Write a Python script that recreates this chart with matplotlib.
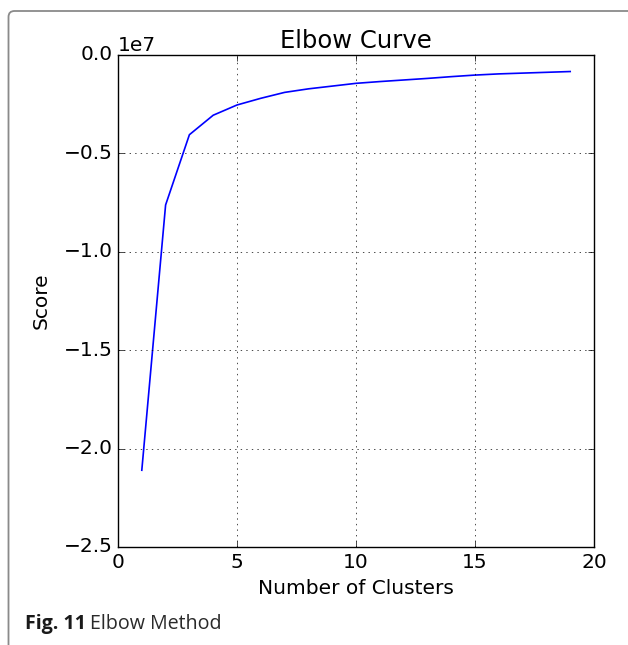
"""Elbow curve for k-means: score vs number of clusters."""

import matplotlib
matplotlib.use("Agg")
import matplotlib.pyplot as plt
from matplotlib.patches import FancyBboxPatch
from matplotlib.transforms import IdentityTransform

# k-means score per number of clusters (values in units of 1e7)
clusters = list(range(1, 20))
score_1e7 = [-2.11, -0.762, -0.405, -0.306, -0.254, -0.220, -0.190, -0.172,
             -0.158, -0.144, -0.135, -0.127, -0.119, -0.110, -0.102, -0.096,
             -0.092, -0.088, -0.084]
scores = [s * 1e7 for s in score_1e7]

plt.style.use("classic")
plt.rcParams["font.family"] = ["DejaVu Sans"]

W, H = 628, 645
fig = plt.figure(figsize=(W / 100, H / 100), dpi=100, facecolor="white")

# page frame (rounded corner top-left, running off right and bottom)
frame = FancyBboxPatch((8.5, -20), W + 40, H - 11 + 20,
                       boxstyle="round,pad=0,rounding_size=6",
                       transform=IdentityTransform(), fill=False,
                       edgecolor="#8a8a8a", linewidth=1.3)
fig.patches.append(frame)

ax = fig.add_axes([118 / W, 1 - 547 / H, 476 / W, 492 / H])
ax.plot(clusters, scores, color="b", linewidth=1.2)
ax.set_xlim(0, 20)
ax.set_ylim(-2.5e7, 0)
ax.set_xticks([0, 5, 10, 15, 20])
ax.grid(True)
ax.set_title("Elbow Curve", fontsize=17.5)
ax.set_xlabel("Number of Clusters", fontsize=14.5)
ax.set_ylabel("Score", fontsize=14.5, labelpad=9)
ax.tick_params(labelsize=14.5)
ax.yaxis.get_offset_text().set_fontsize(14.5)

# caption: bold label followed by regular text
cap = fig.text(25 / W, 1 - 629 / H, "Fig. 11", fontsize=14.1,
               fontweight="bold", family="Open Sans", color="#1a1a1a")
fig.canvas.draw()
bb = cap.get_window_extent()
fig.text((bb.x1 + 4) / W, 1 - 629 / H, "Elbow Method", fontsize=14.1,
         family="Open Sans", color="#2a2a2a")

fig.savefig("out.png", dpi=100, facecolor="white")
